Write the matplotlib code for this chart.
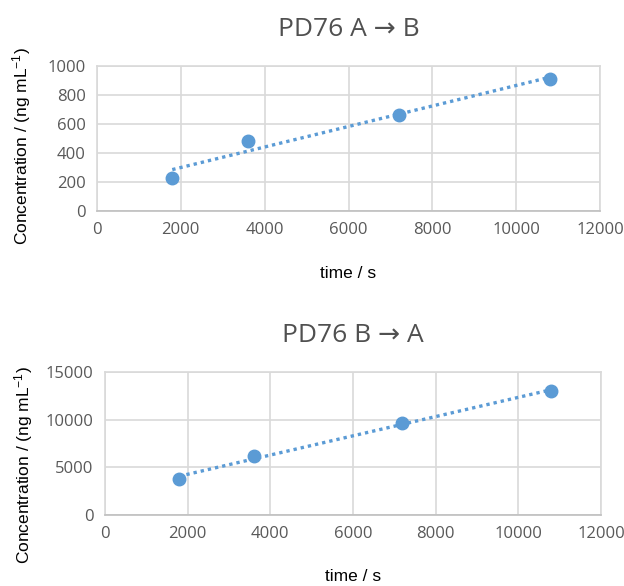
import matplotlib.pyplot as plt
import numpy as np

plt.rcParams['mathtext.fontset'] = 'custom'
plt.rcParams['mathtext.rm'] = 'Liberation Sans'
plt.rcParams['mathtext.it'] = 'Liberation Sans'

# data
time_ab = [1800, 3600, 7200, 10800]
conc_ab = [230, 485, 665, 912]
time_ba = [1800, 3600, 7200, 10800]
conc_ba = [3800, 6150, 9700, 13000]

blue = '#5B9BD5'
grid_col = '#d9d9d9'
tick_col = '#595959'


def panel(ax, x, y, title, ymax, ystep, xpad, ylab_xy):
    x = np.array(x)
    y = np.array(y)
    k, b = np.polyfit(x, y, 1)
    ax.plot(x, k * x + b, linestyle=(0, (1, 1.2)), color=blue, lw=2.4, zorder=2)
    ax.plot(x, y, 'o', color=blue, ms=9, zorder=3, clip_on=False)
    ax.set_xlim(0, 12000)
    ax.set_ylim(0, ymax)
    ax.set_xticks(np.arange(0, 12001, 2000))
    ax.set_yticks(np.arange(0, ymax + 1, ystep))
    ax.grid(True, color=grid_col, lw=1.2, zorder=0)
    ax.set_axisbelow(True)
    for s in ax.spines.values():
        s.set_color(grid_col)
        s.set_linewidth(1.2)
    ax.spines['bottom'].set_color('#bfbfbf')
    ax.tick_params(length=0, labelsize=12, labelcolor=tick_col, pad=8)
    for lab in ax.get_xticklabels() + ax.get_yticklabels():
        lab.set_fontfamily('Open Sans')
    ax.set_title(title, fontsize=19, color='#505050',
                 family=['Open Sans', 'DejaVu Sans'],
                 fontweight='normal', pad=22)
    ax.set_xlabel('time / s', fontsize=12.5, family='Liberation Sans', labelpad=xpad)
    ax.set_ylabel('Concentration / (ng mL$^{-1}$)', fontsize=12.5,
                  family='Liberation Sans')
    ax.yaxis.set_label_coords(*ylab_xy)


fig = plt.figure(figsize=(6.24, 5.86), dpi=100)
ax1 = fig.add_axes([0.155, 0.640, 0.807, 0.247])
ax2 = fig.add_axes([0.168, 0.121, 0.795, 0.244])

panel(ax1, time_ab, conc_ab, 'PD76 A → B', 1000, 200, 20, (-0.127, 0.45))
panel(ax2, time_ba, conc_ba, 'PD76 B → A', 15000, 5000, 19, (-0.141, 0.35))

fig.savefig('out.png', dpi=100)
